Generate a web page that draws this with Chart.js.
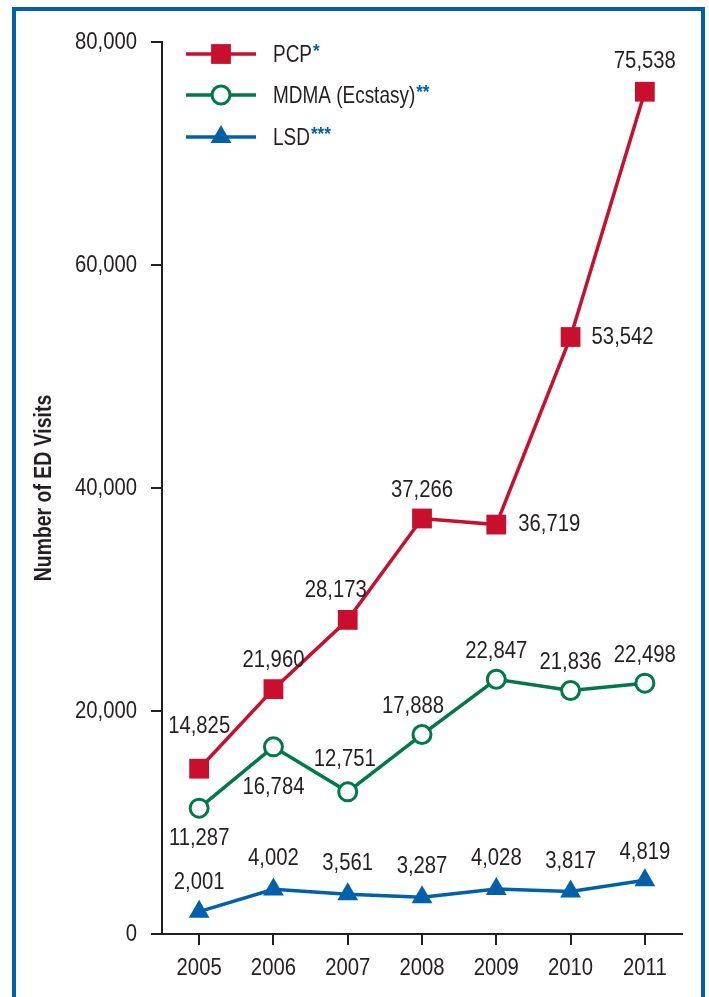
<!DOCTYPE html>
<html>
<head>
<meta charset="utf-8">
<script src="https://cdn.jsdelivr.net/npm/chart.js@4"></script>
<style>
  html, body { margin: 0; padding: 0; background: #ffffff; }
  #wrap { position: relative; width: 709px; height: 997px; overflow: hidden; }
  #frame {
    position: absolute; left: 12px; top: 7px; width: 693px; height: 1100px;
    border: 4px solid #0061aa; box-sizing: border-box;
  }
  #chart { position: absolute; left: 0; top: 0; }
</style>
</head>
<body>
<div id="wrap">
  <div id="frame"></div>
  <canvas id="chart" width="709" height="997"></canvas>
</div>
<script>
// Emergency department visits by drug, 2005-2011
const years = ['2005', '2006', '2007', '2008', '2009', '2010', '2011'];
const pcpVisits  = [14825, 21960, 28173, 37266, 36719, 53542, 75538];
const mdmaVisits = [11287, 16784, 12751, 17888, 22847, 21836, 22498];
const lsdVisits  = [2001, 4002, 3561, 3287, 4028, 3817, 4819];
const yTickValues = [0, 20000, 40000, 60000, 80000];

const seriesNames = ['PCP', 'MDMA (Ecstasy)', 'LSD'];
const seriesNotes = ['*', '**', '***'];
const yAxisTitle = 'Number of ED Visits';

// Value label offsets from each marker: [dx, dy, align]
const pcpLabelPlace  = [[0, -42, 'center'], [0, -29, 'center'], [-12, -29, 'center'], [0, -28, 'center'],
                        [22, 0, 'left'], [21, 0, 'left'], [0, -30, 'center']];
const mdmaLabelPlace = [[0, 30, 'center'], [0, 41, 'center'], [-3, -32, 'center'], [-9, -28, 'center'],
                        [0, -28, 'center'], [0, -28, 'center'], [0, -28, 'center']];
const lsdLabelPlace  = [[0, -29, 'center'], [0, -31, 'center'], [0, -31, 'center'], [0, -31, 'center'],
                        [0, -31, 'center'], [0, -30, 'center'], [0, -28, 'center']];

const RED = '#c8102e', GREEN = '#00784a', BLUE = '#0061aa', INK = '#231f20';
const FONT = "'Liberation Sans', Arial, sans-serif";
const NUM_SIZE = 24, NUM_SQUEEZE = 0.845;

const fmt = v => v.toLocaleString('en-US');

// Draws horizontally condensed text (a narrow grotesque look)
function narrowText(ctx, text, x, y, o) {
  const size = o.size || NUM_SIZE, sx = o.sx || NUM_SQUEEZE;
  ctx.save();
  ctx.font = (o.weight || 'normal') + ' ' + size + 'px ' + FONT;
  ctx.fillStyle = o.color || INK;
  ctx.textBaseline = 'middle';
  ctx.textAlign = 'left';
  const w = ctx.measureText(text).width * sx;
  let left = x;
  if (o.align === 'center') left = x - w / 2;
  else if (o.align === 'right') left = x - w;
  ctx.translate(left, y);
  if (o.rotate) ctx.rotate(o.rotate);
  ctx.scale(sx, 1);
  ctx.fillText(text, 0, 0);
  ctx.restore();
  return w;
}

const axisText = {
  id: 'axisText',
  afterDraw(chart) {
    const ctx = chart.ctx;
    const xs = chart.scales.x, ys = chart.scales.y;
    ys.ticks.forEach((t, i) => {
      narrowText(ctx, fmt(t.value), ys.right - 25, ys.getPixelForTick(i), { align: 'right' });
    });
    xs.ticks.forEach((t, i) => {
      narrowText(ctx, years[t.value], xs.getPixelForTick(i), xs.top + 34, { align: 'center' });
    });
    // rotated axis title, centred on the plot height
    const area = chart.chartArea;
    const cy = (area.top + area.bottom) / 2;
    ctx.save();
    ctx.font = 'bold 24px ' + FONT;
    const w = ctx.measureText(yAxisTitle).width * 0.81;
    ctx.translate(44, cy);
    ctx.rotate(-Math.PI / 2);
    ctx.scale(0.81, 1);
    ctx.fillStyle = INK;
    ctx.textBaseline = 'middle';
    ctx.textAlign = 'center';
    ctx.fillText(yAxisTitle, 0, 0);
    ctx.restore();
  }
};

const valueLabels = {
  id: 'valueLabels',
  afterDatasetsDraw(chart) {
    const ctx = chart.ctx;
    const places = [pcpLabelPlace, mdmaLabelPlace, lsdLabelPlace];
    chart.data.datasets.forEach((ds, di) => {
      const meta = chart.getDatasetMeta(di);
      meta.data.forEach((pt, i) => {
        const [dx, dy, align] = places[di][i];
        narrowText(ctx, fmt(ds.data[i]), pt.x + dx, pt.y + dy, { align });
      });
    });
  }
};

const keyLegend = {
  id: 'keyLegend',
  afterDraw(chart) {
    const ctx = chart.ctx;
    const area = chart.chartArea;
    const x0 = area.left + 24, x1 = area.left + 94, xm = (x0 + x1) / 2;
    const xt = area.left + 111;
    const rows = [area.top + 12, area.top + 53, area.top + 95];
    chart.data.datasets.forEach((ds, di) => {
      const y = rows[di];
      ctx.save();
      ctx.strokeStyle = ds.borderColor;
      ctx.lineWidth = ds.borderWidth;
      ctx.beginPath();
      ctx.moveTo(x0, y);
      ctx.lineTo(x1, y);
      ctx.stroke();
      ctx.fillStyle = ds.pointBackgroundColor;
      ctx.strokeStyle = ds.pointBorderColor;
      ctx.lineWidth = ds.pointBorderWidth;
      Chart.helpers.drawPoint(ctx, {
        pointStyle: ds.pointStyle, radius: ds.pointRadius,
        rotation: 0, borderWidth: ds.pointBorderWidth
      }, xm, y);
      ctx.restore();
      const w = narrowText(ctx, seriesNames[di], xt, y + 1, { sx: 0.79 });
      narrowText(ctx, seriesNotes[di], xt + w + 1, y - 2, { size: 19, weight: 'bold', color: BLUE, sx: 0.9 });
    });
  }
};

new Chart(document.getElementById('chart'), {
  type: 'line',
  data: {
    labels: years,
    datasets: [
      {
        label: seriesNames[0], data: pcpVisits,
        borderColor: RED, borderWidth: 3.5,
        pointStyle: 'rect', pointRadius: 14,
        pointBackgroundColor: RED, pointBorderColor: RED, pointBorderWidth: 0
      },
      {
        label: seriesNames[1], data: mdmaVisits,
        borderColor: GREEN, borderWidth: 3.5,
        pointStyle: 'circle', pointRadius: 9,
        pointBackgroundColor: '#ffffff', pointBorderColor: GREEN, pointBorderWidth: 3
      },
      {
        label: seriesNames[2], data: lsdVisits,
        borderColor: BLUE, borderWidth: 3.5,
        pointStyle: 'triangle', pointRadius: 12,
        pointBackgroundColor: BLUE, pointBorderColor: BLUE, pointBorderWidth: 0
      }
    ]
  },
  options: {
    responsive: false,
    animation: false,
    devicePixelRatio: 1,
    clip: false,
    layout: { padding: { top: 42, right: 27, left: 0, bottom: 0 } },
    plugins: {
      legend: { display: false },
      tooltip: { enabled: false }
    },
    scales: {
      x: {
        type: 'category',
        offset: true,
        afterFit(scale) { scale.height = 63; },
        grid: {
          display: true, drawOnChartArea: false, drawTicks: true,
          tickLength: 11, color: INK, lineWidth: 2
        },
        border: { display: true, color: INK, width: 2 },
        ticks: { display: false }
      },
      y: {
        min: 0, max: 80000,
        afterFit(scale) { scale.width = 162; },
        afterBuildTicks(scale) { scale.ticks = yTickValues.map(v => ({ value: v })); },
        grid: {
          display: true, drawOnChartArea: false, drawTicks: true,
          tickLength: 11, color: INK, lineWidth: 2
        },
        border: { display: true, color: INK, width: 2 },
        ticks: { display: false }
      }
    }
  },
  plugins: [valueLabels, keyLegend, axisText]
});
</script>
</body>
</html>
